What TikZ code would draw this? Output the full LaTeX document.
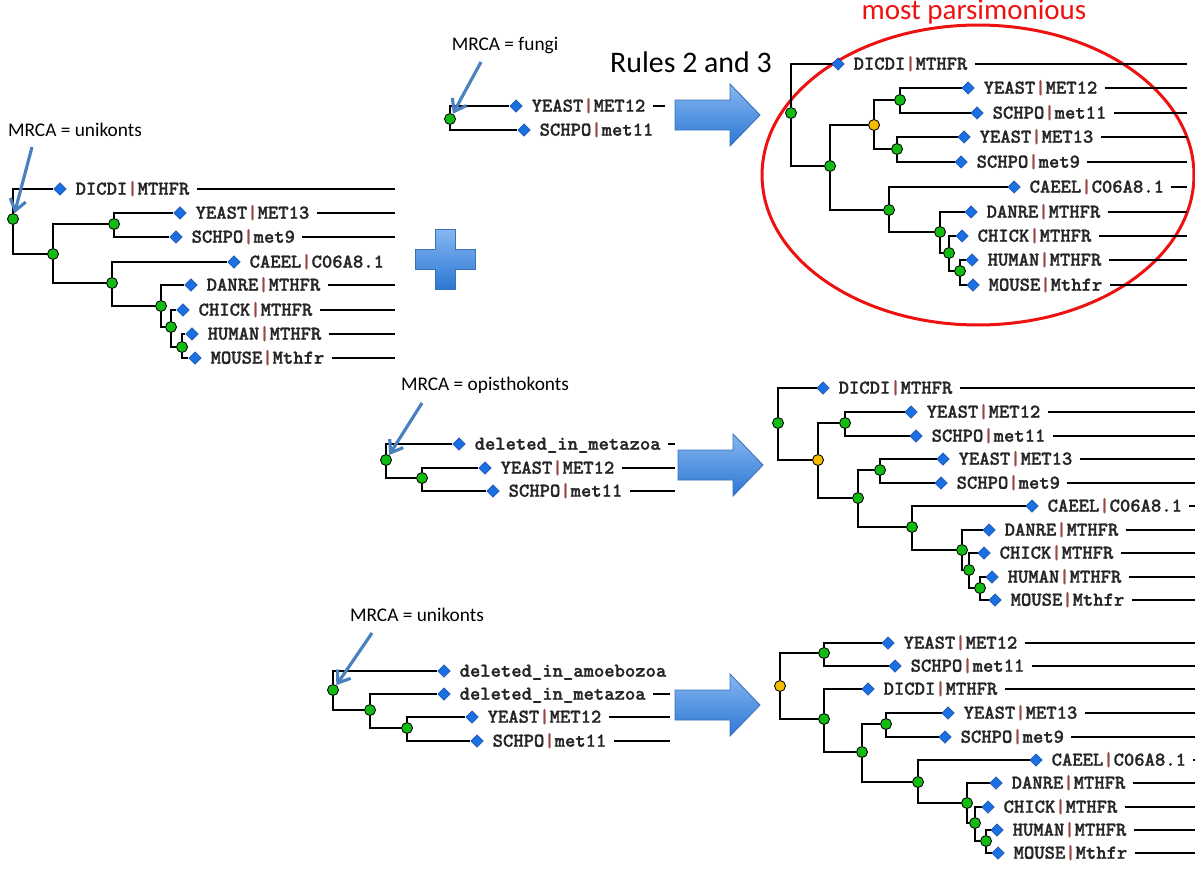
\documentclass[tikz,border=0pt]{standalone}
\usepackage{fontspec}
\setmainfont{Carlito}
\newfontfamily\genefont{lmmonolt10-bold.otf}[FakeBold=1.3]
\usetikzlibrary{arrows.meta,positioning,shapes.geometric}
\definecolor{leafblue}{HTML}{1C6FE0}
\definecolor{leafedge}{HTML}{0D4BA8}
\definecolor{specgreen}{HTML}{11BB11}
\definecolor{dupgold}{HTML}{F5BC00}
\definecolor{sepbrown}{HTML}{9A4A44}
\definecolor{callout}{HTML}{4A80BE}
\definecolor{blocktop}{HTML}{86B6F0}
\definecolor{blockbot}{HTML}{2C78D4}
\definecolor{blockedge}{HTML}{3A70B5}
\definecolor{oval}{HTML}{EE1111}
\tikzset{
  spec/.style={circle,draw=black,fill=specgreen,line width=0.5pt,inner sep=0pt,minimum size=0.22cm},
  dup/.style={spec,fill=dupgold},
  leaf/.style={diamond,draw=leafedge,fill=leafblue,line width=0.3pt,inner sep=0pt,minimum size=0.25cm},
  genelab/.style={font=\genefont\fontsize{11.2}{13}\selectfont,text=black!85,
    inner sep=2pt,text height=6.5pt,text depth=0pt},
  branch/.style={draw=black,line width=0.8pt},
  tail/.style={draw=black,line width=0.8pt,shorten <=2pt},
  note/.style={font=\fontsize{11}{13}\selectfont,inner sep=1pt},
  pointer/.style={-{Straight Barb[length=2.2mm,width=3.2mm]},draw=callout,line width=1.8pt},
  block/.style={draw=blockedge,line width=0.5pt,top color=blocktop,bottom color=blockbot}
}
\newcommand{\gsep}{{\color{sepbrown}|}}
% leaf: diamond plus its gene label
\newcommand{\gene}[3]{%
  \node[leaf] (#1) at (#2) {};
  \node[genelab,right=3pt of #1] (#1t) {#3};}
% big block arrow: tail x, middle y (pixel units)
\newcommand{\blockarrow}[2]{%
  \path[block] (#1,#2-15) -- ++(55,0) -- ++(0,-16) -- (#1+85,#2) -- (#1+55,#2+31)
    -- ++(0,-16) -- (#1,#2+15) -- cycle;}

\begin{document}
\begin{tikzpicture}[x=0.02cm,y=-0.02cm]
  \useasboundingbox (0,0) rectangle (1195,876);

  % --- left tree: MRCA = unikonts
  \node[note] (mrcaA) at (75,130) {MRCA = unikonts};
  \node[spec] (A0) at (13,219) {};
  \node[spec] (A1) at (53,254) {};
  \node[spec] (A2) at (114,224) {};
  \node[spec] (A3) at (112,283) {};
  \node[spec] (A4) at (161,306) {};
  \node[spec] (A5) at (171,327) {};
  \node[spec] (A6) at (182,347) {};
  \gene{Adic}{60,189}{DICDI\gsep MTHFR}
  \gene{Ay13}{180,213}{YEAST\gsep MET13}
  \gene{Asp9}{176,237}{SCHPO\gsep met9}
  \gene{Acae}{234,262}{CAEEL\gsep C06A8.1}
  \gene{Adan}{191,285}{DANRE\gsep MTHFR}
  \gene{Achi}{183,310}{CHICK\gsep MTHFR}
  \gene{Ahum}{192,334}{HUMAN\gsep MTHFR}
  \gene{Amou}{195,358}{MOUSE\gsep Mthfr}
  \coordinate (eA) at (395,0);
  \foreach \p/\c in {A0/Adic,A0/A1,A1/A2,A1/A3,A2/Ay13,A2/Asp9,A3/Acae,A3/A4,
      A4/Adan,A4/A5,A5/Achi,A5/A6,A6/Ahum,A6/Amou}
    \draw[branch] (\p) |- (\c);
  \foreach \g in {Adic,Ay13,Asp9,Adan,Achi,Ahum,Amou}
    \draw[tail] (\g t.east) -- (\g t.east -| eA);
  \coordinate (pA) at (32,147);
  \draw[pointer] (pA) -- (A0);

  % plus sign
  \path[block] (435,229) -- (455,229) -- (455,249) -- (475,249) -- (475,269) -- (455,269)
    -- (455,289) -- (435,289) -- (435,269) -- (415,269) -- (415,249) -- (435,249) -- cycle;

  % --- fungi tree
  \node[note] (mrcaB) at (505,46) {MRCA = fungi};
  \node[spec] (B0) at (450,119) {};
  \gene{By12}{516,106}{YEAST\gsep MET12}
  \gene{Bsp11}{524,130}{SCHPO\gsep met11}
  \coordinate (eB) at (665,0);
  \foreach \c in {By12,Bsp11}
    \draw[branch] (B0) |- (\c);
  \draw[tail] (By12t.east) -- (By12t.east -| eB);
  \coordinate (pB) at (481,62);
  \draw[pointer] (pB) -- (B0);

  \node[font=\fontsize{17}{20}\selectfont] (rules) at (691,62) {Rules 2 and 3};
  \blockarrow{675}{115}

  % --- most parsimonious tree
  \node[font=\fontsize{16.5}{19}\selectfont,text=oval] (best) at (974,12) {most parsimonious};
  \draw[oval,line width=1.7pt] (978,175) ellipse [x radius=4.32cm,y radius=3cm];
  \node[spec] (C0) at (791,113) {};
  \node[spec] (C1) at (830,166) {};
  \node[dup]  (C2) at (874,125) {};
  \node[spec] (C3) at (900,100) {};
  \node[spec] (C4) at (897,149) {};
  \node[spec] (C5) at (889,210) {};
  \node[spec] (C6) at (940,232) {};
  \node[spec] (C7) at (949,253) {};
  \node[spec] (C8) at (960,271) {};
  \gene{Cdic}{838,64}{DICDI\gsep MTHFR}
  \gene{Cy12}{968,88}{YEAST\gsep MET12}
  \gene{Csp11}{977,113}{SCHPO\gsep met11}
  \gene{Cy13}{964,137}{YEAST\gsep MET13}
  \gene{Csp9}{961,162}{SCHPO\gsep met9}
  \gene{Ccae}{1014,187}{CAEEL\gsep C06A8.1}
  \gene{Cdan}{971,212}{DANRE\gsep MTHFR}
  \gene{Cchi}{962,236}{CHICK\gsep MTHFR}
  \gene{Chum}{972,260}{HUMAN\gsep MTHFR}
  \gene{Cmou}{973,285}{MOUSE\gsep Mthfr}
  \coordinate (eC) at (1187,0);
  \foreach \p/\c in {C0/Cdic,C0/C1,C1/C2,C1/C5,C2/C3,C2/C4,C3/Cy12,C3/Csp11,C4/Cy13,
      C4/Csp9,C5/Ccae,C5/C6,C6/Cdan,C6/C7,C7/Cchi,C7/C8,C8/Chum,C8/Cmou}
    \draw[branch] (\p) |- (\c);
  \foreach \g in {Cdic,Cy12,Csp11,Cy13,Csp9,Ccae,Cdan,Cchi,Chum,Cmou}
    \draw[tail] (\g t.east) -- (\g t.east -| eC);

  % --- opisthokonts tree
  \node[note] (mrcaD) at (485,385) {MRCA = opisthokonts};
  \node[spec] (D0) at (386,460) {};
  \node[spec] (D1) at (422,478) {};
  \gene{Ddel}{459,444}{deleted\_in\_metazoa}
  \gene{Dy12}{485,468}{YEAST\gsep MET12}
  \gene{Dsp11}{493,491}{SCHPO\gsep met11}
  \coordinate (eD) at (675,0);
  \foreach \p/\c in {D0/Ddel,D0/D1,D1/Dy12,D1/Dsp11}
    \draw[branch] (\p) |- (\c);
  \foreach \g in {Ddel,Dy12,Dsp11}
    \draw[tail] (\g t.east) -- (\g t.east -| eD);
  \coordinate (pD) at (422,403);
  \draw[pointer] (pD) -- (D0);

  \blockarrow{678}{465}

  % --- result for opisthokonts
  \node[spec] (E0) at (778,423) {};
  \node[dup]  (E1) at (818,460) {};
  \node[spec] (E2) at (845,423) {};
  \node[spec] (E3) at (858,498) {};
  \node[spec] (E4) at (880,470) {};
  \node[spec] (E5) at (912,527) {};
  \node[spec] (E6) at (962,550) {};
  \node[spec] (E7) at (969,570) {};
  \node[spec] (E8) at (980,588) {};
  \gene{Edic}{823,388}{DICDI\gsep MTHFR}
  \gene{Ey12}{911,412}{YEAST\gsep MET12}
  \gene{Esp11}{916,436}{SCHPO\gsep met11}
  \gene{Ey13}{943,459}{YEAST\gsep MET13}
  \gene{Esp9}{941,483}{SCHPO\gsep met9}
  \gene{Ecae}{1032,506}{CAEEL\gsep C06A8.1}
  \gene{Edan}{989,530}{DANRE\gsep MTHFR}
  \gene{Echi}{984,553}{CHICK\gsep MTHFR}
  \gene{Ehum}{992,577}{HUMAN\gsep MTHFR}
  \gene{Emou}{995,600}{MOUSE\gsep Mthfr}
  \coordinate (eE) at (1195,0);
  \foreach \p/\c in {E0/Edic,E0/E1,E1/E2,E1/E3,E2/Ey12,E2/Esp11,E3/E4,E3/E5,E4/Ey13,
      E4/Esp9,E5/Ecae,E5/E6,E6/Edan,E6/E7,E7/Echi,E7/E8,E8/Ehum,E8/Emou}
    \draw[branch] (\p) |- (\c);
  \foreach \g in {Edic,Ey12,Esp11,Ey13,Esp9,Ecae,Edan,Echi,Ehum,Emou}
    \draw[tail] (\g t.east) -- (\g t.east -| eE);

  % --- bottom tree: MRCA = unikonts
  \node[note] (mrcaF) at (417,615) {MRCA = unikonts};
  \node[spec] (F0) at (333,690) {};
  \node[spec] (F1) at (370,710) {};
  \node[spec] (F2) at (407,728) {};
  \gene{Famo}{444,671}{deleted\_in\_amoebozoa}
  \gene{Fmet}{444,694}{deleted\_in\_metazoa}
  \gene{Fy12}{472,717}{YEAST\gsep MET12}
  \gene{Fsp11}{477,741}{SCHPO\gsep met11}
  \coordinate (eF) at (670,0);
  \foreach \p/\c in {F0/Famo,F0/F1,F1/Fmet,F1/F2,F2/Fy12,F2/Fsp11}
    \draw[branch] (\p) |- (\c);
  \foreach \g in {Fmet,Fy12,Fsp11}
    \draw[tail] (\g t.east) -- (\g t.east -| eF);
  \coordinate (pF) at (372,633);
  \draw[pointer] (pF) -- (F0);

  \blockarrow{675}{705}

  % --- result for unikonts
  \node[dup]  (G0) at (780,686) {};
  \node[spec] (G1) at (824,653) {};
  \node[spec] (G2) at (824,719) {};
  \node[spec] (G3) at (862,752) {};
  \node[spec] (G4) at (886,724) {};
  \node[spec] (G5) at (918,782) {};
  \node[spec] (G6) at (967,803) {};
  \node[spec] (G7) at (975,823) {};
  \node[spec] (G8) at (986,841) {};
  \gene{Gy12}{888,643}{YEAST\gsep MET12}
  \gene{Gsp11}{895,666}{SCHPO\gsep met11}
  \gene{Gdic}{868,689}{DICDI\gsep MTHFR}
  \gene{Gy13}{948,713}{YEAST\gsep MET13}
  \gene{Gsp9}{945,737}{SCHPO\gsep met9}
  \gene{Gcae}{1036,760}{CAEEL\gsep C06A8.1}
  \gene{Gdan}{996,783}{DANRE\gsep MTHFR}
  \gene{Gchi}{988,807}{CHICK\gsep MTHFR}
  \gene{Ghum}{997,830}{HUMAN\gsep MTHFR}
  \gene{Gmou}{998,853}{MOUSE\gsep Mthfr}
  \coordinate (eG) at (1195,0);
  \foreach \p/\c in {G0/G1,G0/G2,G1/Gy12,G1/Gsp11,G2/Gdic,G2/G3,G3/G4,G3/G5,G4/Gy13,
      G4/Gsp9,G5/Gcae,G5/G6,G6/Gdan,G6/G7,G7/Gchi,G7/G8,G8/Ghum,G8/Gmou}
    \draw[branch] (\p) |- (\c);
  \foreach \g in {Gy12,Gsp11,Gdic,Gy13,Gsp9,Gcae,Gdan,Gchi,Ghum,Gmou}
    \draw[tail] (\g t.east) -- (\g t.east -| eG);
\end{tikzpicture}
\end{document}
